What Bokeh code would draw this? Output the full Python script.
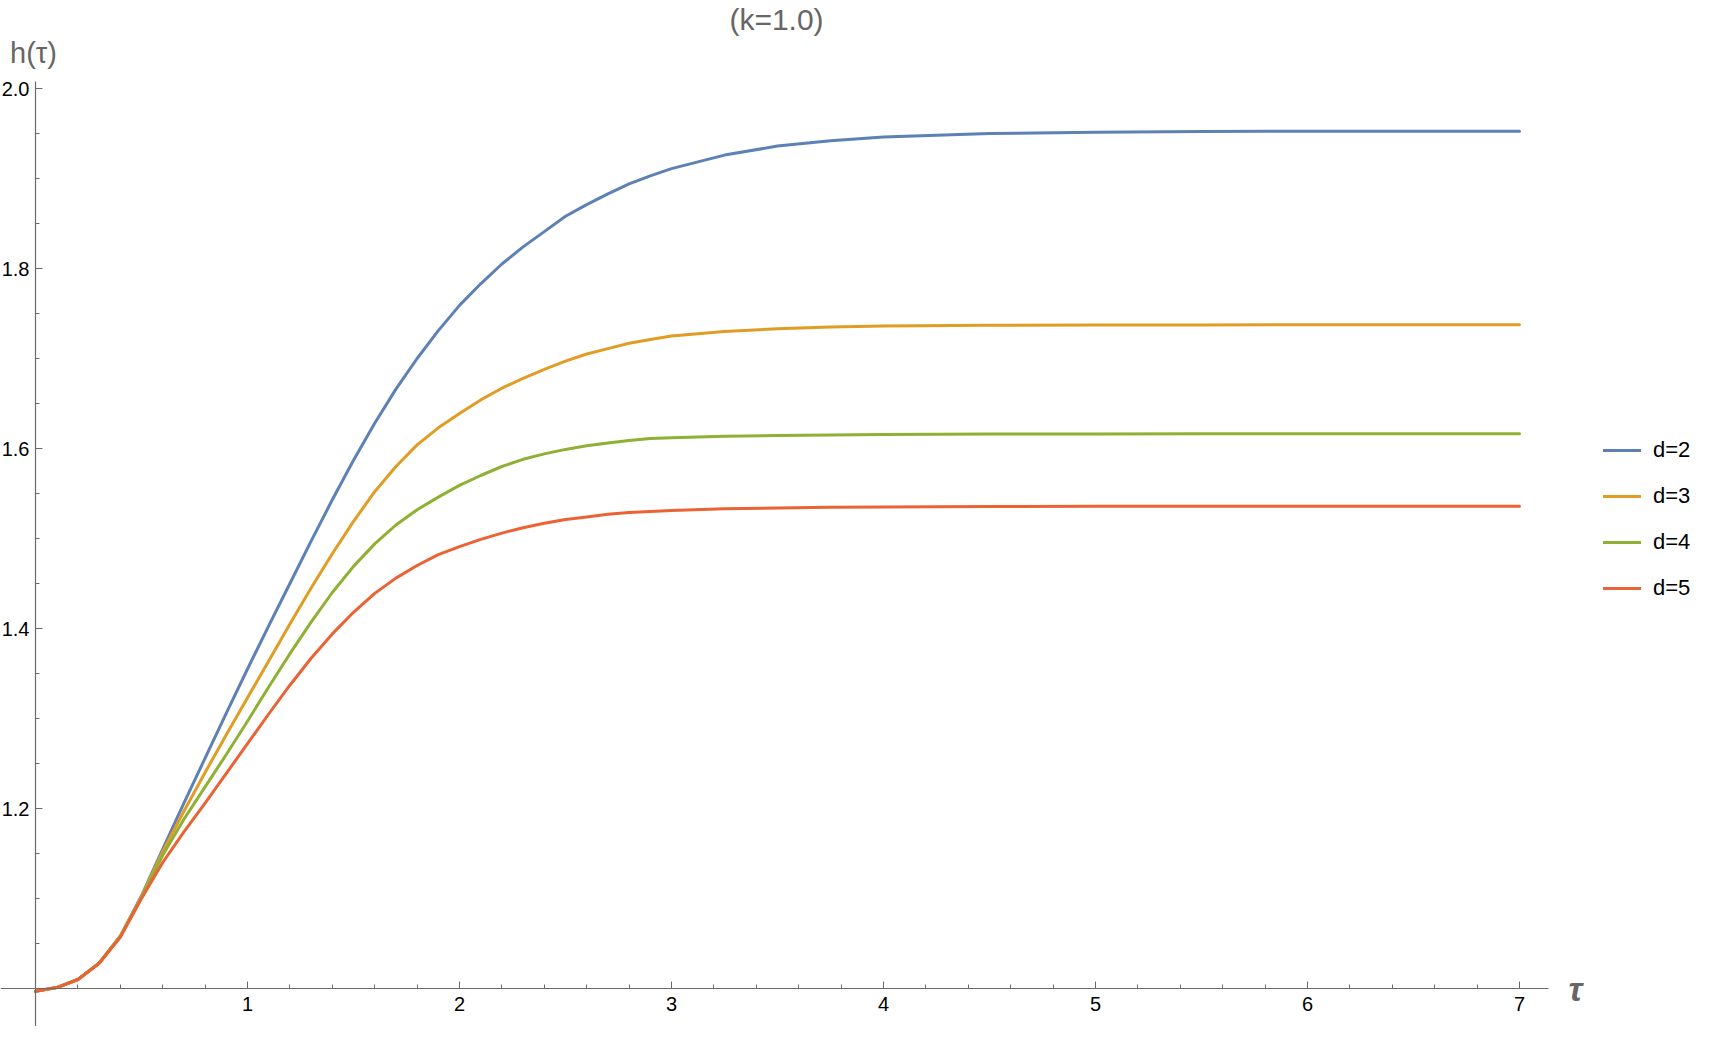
from bokeh.plotting import figure
from bokeh.models import (LinearAxis, FixedTicker, NumeralTickFormatter, Range1d,
                          Legend, LegendItem, Label)
from bokeh.embed import file_html
from bokeh.resources import INLINE

# ---------------- data ----------------
tau = [0.0, 0.1, 0.2, 0.3, 0.4, 0.5, 0.6, 0.7, 0.8, 0.9,
       1.0, 1.1, 1.2, 1.3, 1.4, 1.5, 1.6, 1.7, 1.8, 1.9,
       2.0, 2.1, 2.2, 2.3, 2.4, 2.5, 2.6, 2.7, 2.8, 2.9,
       3.0, 3.25, 3.5, 3.75, 4.0, 4.5, 5.0, 5.5, 6.0, 6.5, 7.0]

h_d2 = [0.997, 1.001, 1.010, 1.028, 1.058, 1.103, 1.155, 1.206, 1.256, 1.306,
        1.355, 1.403, 1.450, 1.497, 1.543, 1.587, 1.628, 1.666, 1.700, 1.731,
        1.759, 1.783, 1.805, 1.824, 1.841, 1.858, 1.871, 1.883, 1.894, 1.903,
        1.911, 1.926, 1.936, 1.942, 1.946, 1.950, 1.9515, 1.9522, 1.9525, 1.9526, 1.9526]

h_d3 = [0.997, 1.001, 1.010, 1.028, 1.058, 1.102, 1.152, 1.197, 1.240, 1.282,
        1.323, 1.364, 1.405, 1.445, 1.483, 1.519, 1.552, 1.580, 1.604, 1.623,
        1.639, 1.654, 1.667, 1.678, 1.688, 1.697, 1.705, 1.711, 1.717, 1.721,
        1.725, 1.730, 1.733, 1.735, 1.736, 1.737, 1.7372, 1.7373, 1.7374, 1.7374, 1.7374]

h_d4 = [0.997, 1.001, 1.010, 1.028, 1.058, 1.101, 1.148, 1.188, 1.224, 1.260,
        1.297, 1.335, 1.372, 1.407, 1.440, 1.469, 1.494, 1.515, 1.532, 1.546,
        1.559, 1.570, 1.580, 1.588, 1.594, 1.599, 1.603, 1.606, 1.609, 1.611,
        1.612, 1.6135, 1.6145, 1.615, 1.6155, 1.616, 1.6162, 1.6163, 1.6163, 1.6163, 1.6163]

h_d5 = [0.997, 1.001, 1.010, 1.028, 1.057, 1.100, 1.140, 1.174, 1.206, 1.239,
        1.272, 1.305, 1.337, 1.367, 1.394, 1.418, 1.439, 1.456, 1.470, 1.482,
        1.491, 1.499, 1.506, 1.512, 1.517, 1.521, 1.524, 1.527, 1.529, 1.530,
        1.531, 1.533, 1.534, 1.5347, 1.535, 1.5355, 1.5357, 1.5358, 1.5359, 1.5359, 1.5359]

series_labels = ["d=2", "d=3", "d=4", "d=5"]
series_values = [h_d2, h_d3, h_d4, h_d5]
series_colors = ["#5E81B5", "#E19C24", "#8FB032", "#EB6235"]

x_ticks = [1, 2, 3, 4, 5, 6, 7]
x_minor_ticks = [0.2, 0.4, 0.6, 0.8, 1.2, 1.4, 1.6, 1.8, 2.2, 2.4, 2.6, 2.8,
                 3.2, 3.4, 3.6, 3.8, 4.2, 4.4, 4.6, 4.8, 5.2, 5.4, 5.6, 5.8,
                 6.2, 6.4, 6.6, 6.8]
y_ticks = [1.2, 1.4, 1.6, 1.8, 2.0]
y_minor_ticks = [0.95, 1.05, 1.1, 1.15, 1.25, 1.3, 1.35, 1.45, 1.5, 1.55,
                 1.65, 1.7, 1.75, 1.85, 1.9, 1.95]

title_text = "(k=1.0)"
x_label_text = "\u03c4"
y_label_text = "h(\u03c4)"

# ---------------- layout ----------------
W, H = 1698, 1026
X0_PX = 35.0          # pixel position of tau = 0 inside the canvas
X_SCALE = 212.0       # pixels per unit of tau
Y1_PX = 988.0         # pixel (from top) of h = 1.0
Y_SCALE = 900.0       # pixels per unit of h

x_start = -X0_PX / X_SCALE
x_end = (W - X0_PX) / X_SCALE
y_end = 1.0 + Y1_PX / Y_SCALE
y_start = 1.0 - (H - Y1_PX) / Y_SCALE

p = figure(width=W, height=H, output_backend="svg", toolbar_location=None,
           x_axis_type=None, y_axis_type=None,
           x_range=Range1d(x_start, x_end), y_range=Range1d(y_start, y_end),
           min_border_left=0, min_border_right=0, min_border_top=0, min_border_bottom=0)
p.outline_line_color = None
p.background_fill_color = "white"
p.border_fill_color = "white"
p.xgrid.visible = False
p.ygrid.visible = False

AX_COLOR = "#6a6a6a"
FONT = "Liberation Sans"

xaxis = LinearAxis(fixed_location=1.0, bounds=(x_start, 7.137),
                   ticker=FixedTicker(ticks=x_ticks, minor_ticks=x_minor_ticks),
                   formatter=NumeralTickFormatter(format="0"))
yaxis = LinearAxis(fixed_location=0.0, bounds=(0.944, 2.008),
                   ticker=FixedTicker(ticks=y_ticks, minor_ticks=y_minor_ticks),
                   formatter=NumeralTickFormatter(format="0.0"))
for ax in (xaxis, yaxis):
    ax.axis_line_color = AX_COLOR
    ax.axis_line_width = 1.2
    ax.major_tick_line_color = AX_COLOR
    ax.minor_tick_line_color = AX_COLOR
    ax.major_tick_line_width = 1
    ax.minor_tick_line_width = 1
    ax.major_tick_in = 7
    ax.major_tick_out = 0
    ax.minor_tick_in = 4
    ax.minor_tick_out = 0
    ax.major_label_text_font = FONT
    ax.major_label_text_font_size = "20px"
    ax.major_label_text_color = "black"
xaxis.major_label_standoff = 8
yaxis.major_label_standoff = 6
p.add_layout(xaxis, "below")
p.add_layout(yaxis, "left")

items = []
for lab, vals, col in zip(series_labels, series_values, series_colors):
    r = p.line(tau, vals, line_color=col, line_width=3, line_join="round", line_cap="round")
    items.append(LegendItem(label=lab, renderers=[r]))

legend = Legend(items=items, location=(1603, 424),
                label_text_font=FONT, label_text_font_size="22px",
                label_text_color="black",
                glyph_width=38, glyph_height=28, label_height=28,
                spacing=18, label_standoff=12, padding=0, margin=0,
                border_line_color=None, background_fill_alpha=0)
p.add_layout(legend)

p.add_layout(Label(x=776, y=H - 19, x_units="screen", y_units="screen",
                   text=title_text, text_align="center", text_baseline="middle",
                   text_font=FONT, text_font_size="30px", text_color="#666666"))
p.add_layout(Label(x=33, y=H - 52, x_units="screen", y_units="screen",
                   text=y_label_text, text_align="center", text_baseline="middle",
                   text_font=FONT, text_font_size="29px", text_color="#666666"))
p.add_layout(Label(x=1575, y=H - Y1_PX, x_units="screen", y_units="screen",
                   text=x_label_text, text_align="center", text_baseline="middle",
                   text_font=FONT, text_font_size="34px", text_font_style="bold italic",
                   text_color="#666666"))

open("out.html", "w").write(file_html(p, INLINE))
